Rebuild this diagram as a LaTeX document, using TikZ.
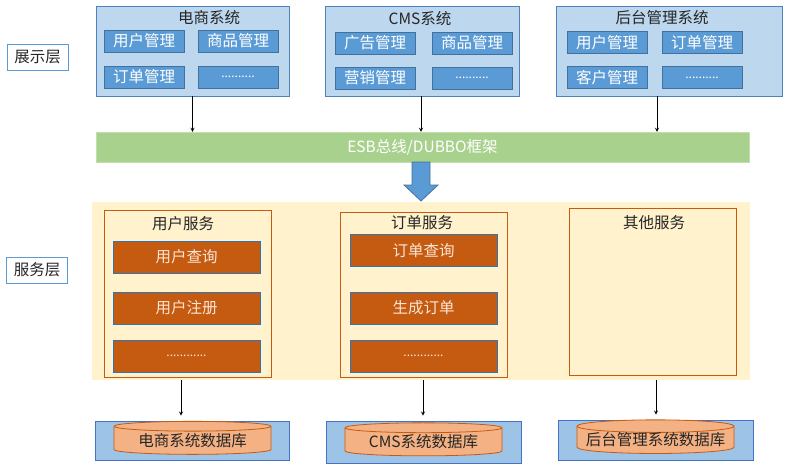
\documentclass[tikz,border=0pt]{standalone}
\usepackage{fontspec}
\setmainfont{Noto Sans CJK SC}
\usepackage{xcolor}
\usetikzlibrary{arrows,shapes.geometric}

\definecolor{sysfill}{HTML}{BDD7EE}
\definecolor{sysline}{HTML}{4F81BD}
\definecolor{modfill}{HTML}{5B9BD5}
\definecolor{modline}{HTML}{41719C}
\definecolor{busfill}{HTML}{A9D18E}
\definecolor{bandfill}{HTML}{FFF2CC}
\definecolor{srvline}{HTML}{C55A11}
\definecolor{opline}{HTML}{2E75B6}
\definecolor{optext}{HTML}{FBE5D6}
\definecolor{dbfill}{HTML}{9DC3E6}
\definecolor{dbline}{HTML}{4472C4}
\definecolor{cylfill}{HTML}{F4B183}
\definecolor{txt}{HTML}{262626}

\tikzset{
	layer/.style={draw=modfill, line width=0.9pt, minimum width=61pt, minimum height=26pt, inner sep=0pt, text=txt},
	sysbox/.style={draw=sysline, fill=sysfill, line width=0.9pt, minimum width=193pt, minimum height=90pt, inner sep=0pt},
	modbox/.style={draw=modline, fill=modfill, line width=0.9pt, minimum width=80pt, minimum height=22pt, inner sep=0pt, text=white},
	srvbox/.style={draw=srvline, line width=0.9pt, minimum width=167pt, minimum height=167pt, inner sep=0pt},
	opbox/.style={draw=opline, fill=srvline, line width=0.9pt, minimum width=147pt, minimum height=32pt, inner sep=0pt, text=optext},
	dbbox/.style={draw=dbline, fill=dbfill, line width=0.9pt, minimum width=194pt, minimum height=40pt, inner sep=0pt},
	cyl/.style={cylinder, shape border rotate=90, aspect=0.09, draw=srvline, fill=cylfill, line width=0.8pt, minimum width=157pt, minimum height=33pt, inner sep=0pt, text=txt},
	title/.style={text=txt, inner sep=0pt},
	dots/.style={font=\fontsize{12}{14}\selectfont},
	flow/.style={->, >=stealth, line width=0.8pt}
}

\begin{document}
\begin{tikzpicture}[x=1pt, y=-1pt, font=\fontsize{15.5}{18}\selectfont]
	\useasboundingbox (0,0) rectangle (786,468);
	
	\node[layer](L1) at (37.5,57){展示层};
	\node[layer](L2) at (37,270){服务层};
	
	\node[sysbox](SYS1) at (192.5,51){};
	\node[title](T1) at (209,18){电商系统};
	\node[modbox](M11) at (144,41){用户管理};
	\node[modbox, right of=M11, node distance=94pt](M12){商品管理};
	\node[modbox, below of=M11, node distance=36pt](M13){订单管理};
	\node[modbox, right of=M13, node distance=94pt, dots](M14){..........};
	
	\node[sysbox, minimum width=194pt](SYS2) at (422,51){};
	\node[title](T2) at (420,19){CMS系统};
	\node[modbox](M21) at (375,43){广告管理};
	\node[modbox, right of=M21, node distance=97pt](M22){商品管理};
	\node[modbox, below of=M21, node distance=35pt](M23){营销管理};
	\node[modbox, right of=M23, node distance=97pt, dots](M24){..........};
	
	\node[sysbox, minimum width=226pt](SYS3) at (669,51){};
	\node[title](T3) at (662,18){后台管理系统};
	\node[modbox](M31) at (607,42.5){用户管理};
	\node[modbox, right of=M31, node distance=95pt](M32){订单管理};
	\node[modbox, below of=M31, node distance=35pt](M33){客户管理};
	\node[modbox, right of=M33, node distance=95pt, dots](M34){..........};
	
	\node[fill=busfill, draw=busfill!70!white, minimum width=653pt, minimum height=30pt, inner sep=0pt, text=white](ESB) at (422.5,147){ESB总线/DUBBO框架};
	
	\draw[flow] (SYS1.south) -- (SYS1.south |- ESB.north);
	\draw[flow] ([xshift=-1pt]SYS2.south) -- ([xshift=-1pt]SYS2.south |- ESB.north);
	\draw[flow] ([xshift=-12pt]SYS3.south) -- ([xshift=-12pt]SYS3.south |- ESB.north);
	
	\node[fill=bandfill, minimum width=658pt, minimum height=178pt, inner sep=0pt](BAND) at (421,291){};
	
	\draw[draw=modline, fill=modfill, line width=0.8pt] (412,162) -- (412,185) -- (404,185) -- (421,201) -- (438,185) -- (430,185) -- (430,162) -- cycle;
	
	\node[srvbox](SRV1) at (187.5,293.5){};
	\node[title](S1) at (183,224){用户服务};
	\node[opbox](O11) at (186.5,257){用户查询};
	\node[opbox, below of=O11, node distance=51pt](O12){用户注册};
	\node[opbox, below of=O12, node distance=48pt, dots](O13){............};
	
	\node[srvbox, minimum height=165pt](SRV2) at (423.5,294.5){};
	\node[title](S2) at (422,223){订单服务};
	\node[opbox](O21) at (423.5,250.5){订单查询};
	\node[opbox, below of=O21, node distance=57.5pt](O22){生成订单};
	\node[opbox, below of=O22, node distance=48pt, dots](O23){............};
	
	\node[srvbox](SRV3) at (652.5,291.5){};
	\node[title](S3) at (654,223){其他服务};
	
	\node[dbbox, minimum height=39pt](DB1) at (192.5,440.5){};
	\node[cyl](CYL1) at (DB1){电商系统数据库};
	\node[dbbox, minimum width=195pt, minimum height=42pt](DB2) at (423.5,442){};
	\node[cyl](CYL2) at (DB2){CMS系统数据库};
	\node[dbbox, minimum width=195pt](DB3) at (655.5,440){};
	\node[cyl](CYL3) at (DB3){后台管理系统数据库};
	
	\coordinate (A1) at ([xshift=-6.5pt]SRV1.south);
	\coordinate (A2) at ([xshift=-0.5pt]SRV2.south);
	\coordinate (A3) at ([xshift=3.5pt]SRV3.south);
	\draw[flow, shorten >=5pt] (A1 |- BAND.south) -- (A1 |- DB1.north);
	\draw[flow, shorten >=5pt] (A2 |- BAND.south) -- (A2 |- DB2.north);
	\draw[flow, shorten >=5pt] (A3 |- BAND.south) -- (A3 |- DB3.north);
\end{tikzpicture}
\end{document}
